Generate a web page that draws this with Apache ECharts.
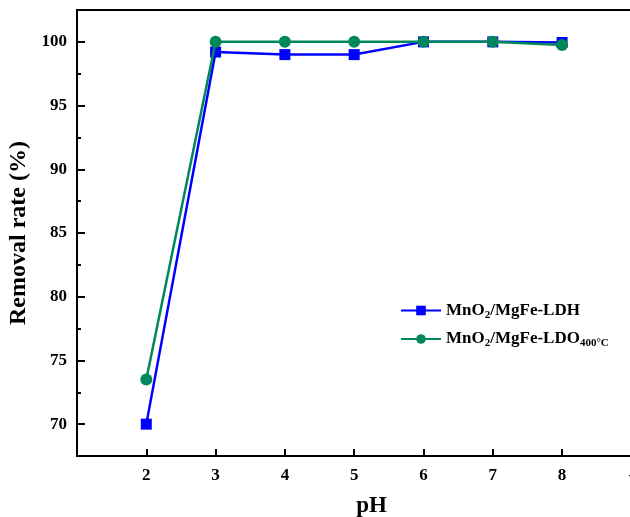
<!DOCTYPE html>
<html><head><meta charset="utf-8">
<script src="https://cdn.jsdelivr.net/npm/echarts@6/dist/echarts.min.js"></script>
<style>html,body{margin:0;padding:0;background:#fff}#c{width:630px;height:517px}</style>
</head><body><div id="c"></div>
<script>
var pH = [2, 3, 4, 5, 6, 7, 8];
var ldh = [70.0, 99.2, 99.0, 99.0, 100.0, 100.0, 99.95];
var ldo = [73.5, 100.0, 100.0, 100.0, 100.0, 100.0, 99.75];
var xTickValues = [2, 3, 4, 5, 6, 7, 8, 9];
var xTickLabels = ['2', '3', '4', '5', '6', '7', '8', '-'];
var yMajor = [70, 75, 80, 85, 90, 95, 100];
var yMinor = [72.5, 77.5, 82.5, 87.5, 92.5, 97.5];
var seriesNames = ['MnO{sub|2}/MgFe-LDH', 'MnO{sub|2}/MgFe-LDO{sub|400°C}'];

var font = 'Liberation Serif, Times New Roman, serif';
var chart = echarts.init(document.getElementById('c'));
function pairs(vals){ return pH.map(function(x,i){ return [x, vals[i]]; }); }
chart.setOption({
  animation: false,
  grid: {left: 77, top: 10, width: 589, height: 446, outerBoundsMode: 'none', containLabel: false,
    show: true, borderColor: '#000', borderWidth: 2, backgroundColor: 'transparent'},
  legend: {
    left: 400, top: 302, padding: 0, orient: 'vertical', itemWidth: 40, itemHeight: 12, itemGap: 10,
    data: [seriesNames[0], seriesNames[1]],
    textStyle: {fontFamily: font, fontWeight: 'bold', fontSize: 17, color: '#000',
      rich: {sub: {fontFamily: font, fontWeight: 'bold', fontSize: 11, verticalAlign: 'bottom', padding: [9,0,0,0], color: '#000'}}}
  },
  xAxis: {
    type: 'value', min: 1, max: 9.5,
    name: 'pH', nameLocation: 'middle', nameGap: 39,
    nameTextStyle: {fontFamily: font, fontWeight: 'bold', fontSize: 23, color: '#000'},
    axisLine: {show: true, lineStyle: {color: '#000', width: 2}},
    axisTick: {show: true, inside: true, length: 7, lineStyle: {color: '#000', width: 2}, customValues: [2,3,4,5,6,7,8]},
    axisLabel: {fontFamily: font, fontWeight: 'bold', fontSize: 17, color: '#000', margin: 11,
      customValues: xTickValues,
      formatter: function(v){ var i = xTickValues.indexOf(Math.round(v)); return i >= 0 ? xTickLabels[i] : ''; }},
    splitLine: {show: false}
  },
  yAxis: [{
    type: 'value', min: 67.5, max: 102.5,
    name: 'Removal rate (%)', nameLocation: 'middle', nameGap: 36,
    nameTextStyle: {fontFamily: font, fontWeight: 'bold', fontSize: 24, color: '#000'},
    axisLine: {show: true, lineStyle: {color: '#000', width: 2}},
    axisTick: {show: true, inside: true, length: 8, lineStyle: {color: '#000', width: 2}, customValues: yMajor},
    axisLabel: {fontFamily: font, fontWeight: 'bold', fontSize: 17, color: '#000', margin: 10, customValues: yMajor},
    splitLine: {show: false}
  }, {
    type: 'value', min: 67.5, max: 102.5, position: 'left',
    axisLine: {show: false},
    axisTick: {show: true, inside: true, length: 4, lineStyle: {color: '#000', width: 2}, customValues: yMinor},
    axisLabel: {show: false},
    splitLine: {show: false}
  }],
  series: [{
    name: seriesNames[0], type: 'line', data: pairs(ldh),
    symbol: 'rect', symbolSize: 11,
    itemStyle: {color: '#0000FF'}, lineStyle: {color: '#0000FF', width: 2.5}, z: 2
  }, {
    name: seriesNames[1], type: 'line', data: pairs(ldo),
    symbol: 'circle', symbolSize: 12,
    itemStyle: {color: '#00875A'}, lineStyle: {color: '#00875A', width: 2.5}, z: 3
  }]
});
</script></body></html>
